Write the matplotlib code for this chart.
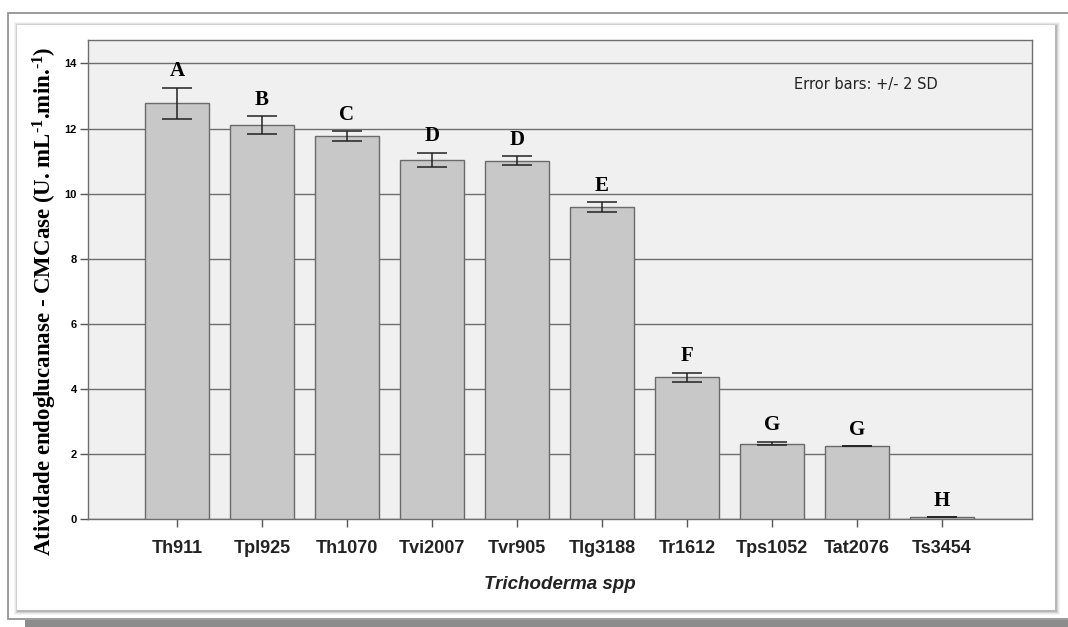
import matplotlib
matplotlib.use("Agg")
import matplotlib.pyplot as plt
from matplotlib.patches import Rectangle

plt.rcParams["mathtext.fontset"] = "custom"
plt.rcParams["mathtext.rm"] = "Liberation Serif:bold"
plt.rcParams["mathtext.bf"] = "Liberation Serif:bold"
plt.rcParams["mathtext.it"] = "Liberation Serif:bold:italic"

strains = ["Th911", "Tpl925", "Th1070", "Tvi2007", "Tvr905", "Tlg3188",
           "Tr1612", "Tps1052", "Tat2076", "Ts3454"]
means = [12.78, 12.10, 11.76, 11.03, 11.01, 9.58, 4.35, 2.32, 2.24, 0.05]
err_2sd = [0.48, 0.27, 0.15, 0.22, 0.14, 0.15, 0.15, 0.06, 0.0, 0.0]
letters = ["A", "B", "C", "D", "D", "E", "F", "G", "G", "H"]
yticks = [0, 2, 4, 6, 8, 10, 12, 14]

W, H = 1068, 627
fig = plt.figure(figsize=(W / 100, H / 100), dpi=100)
fig.patch.set_facecolor("white")

def fx(px):
    return px / W

def fy(py):
    return 1 - py / H

# outer frame (right side runs off the image)
fig.patches.append(Rectangle((fx(8), fy(619)), fx(1080) - fx(8), fy(13) - fy(619),
                             transform=fig.transFigure, facecolor="white",
                             edgecolor="#8a8a8a", lw=1.2, zorder=0))
# bottom shadow band
fig.patches.append(Rectangle((fx(25), fy(628)), fx(1070) - fx(25), fy(620) - fy(628),
                             transform=fig.transFigure, facecolor="#8c8c8c",
                             edgecolor="none", zorder=0.1))
# soft shadow of inner card
for i, a in enumerate([0.04, 0.06, 0.09, 0.12]):
    d = 5 - i
    fig.patches.append(Rectangle((fx(17 - d + 2), fy(610 + d)),
                                 fx(1055 + d) - fx(17 - d + 2), fy(25 - d + 2) - fy(610 + d),
                                 transform=fig.transFigure, facecolor="black",
                                 alpha=a, edgecolor="none", zorder=0.5))
fig.patches.append(Rectangle((fx(17), fy(610)), fx(1055) - fx(17), fy(25) - fy(610),
                             transform=fig.transFigure, facecolor="white",
                             edgecolor="none", zorder=0.6))

ax = fig.add_axes([fx(88), fy(519), fx(1032) - fx(88), fy(40) - fy(519)])
ax.set_facecolor("#f0f0f0")
ax.set_zorder(2)

x = list(range(len(strains)))
ax.bar(x, means, width=0.75, color="#c8c8c8", edgecolor="#6a6a6a", lw=1.0, zorder=3)
ax.errorbar(x, means, yerr=err_2sd, fmt="none", ecolor="#222222", elinewidth=1.1,
            capsize=11, capthick=1.1, zorder=4)

for xi, m, e, lab in zip(x, means, err_2sd, letters):
    ax.text(xi, m + e + 0.2, lab, ha="center", va="bottom",
            fontfamily="Liberation Serif", fontweight="bold", fontsize=15, zorder=5)

ax.set_xlim(-1.047, 10.06)
ax.set_ylim(0, 14.72)
ax.set_yticks(yticks)
ax.set_yticklabels([str(t) for t in yticks], fontfamily="Liberation Sans",
                   fontweight="bold", fontsize=8)
ax.set_xticks(x)
ax.set_xticklabels(strains, fontfamily=["Liberation Sans Narrow", "Liberation Sans"],
                   fontweight="bold", fontsize=13, color="#222222")
ax.yaxis.grid(True, color="#6e6e6e", lw=1.0, zorder=1)
ax.set_axisbelow(True)
ax.tick_params(axis="both", color="#555555", length=6, width=1, direction="out")
ax.tick_params(axis="x", pad=9)
ax.tick_params(axis="y", pad=2)
for s in ax.spines.values():
    s.set_color("#6e6e6e")
    s.set_linewidth(1.0)

ax.set_xlabel("Trichoderma spp", fontfamily="Liberation Sans", fontstyle="italic",
              fontweight="bold", fontsize=13.5, labelpad=14, color="#222222")
ax.set_ylabel(r"Atividade endoglucanase - CMCase (U. mL$^{\text{-1}}$.min.$^{\text{-1}}$)",
              fontfamily="Liberation Serif", fontweight="bold", fontsize=16.5)
ax.yaxis.set_label_coords(-0.031, 0.455)

ax.text(0.748, 0.908, "Error bars: +/- 2 SD", transform=ax.transAxes,
        fontfamily="DejaVu Sans", fontsize=10.5, color="#222222", ha="left", va="center")

fig.savefig("out.png", dpi=100, facecolor="white")
